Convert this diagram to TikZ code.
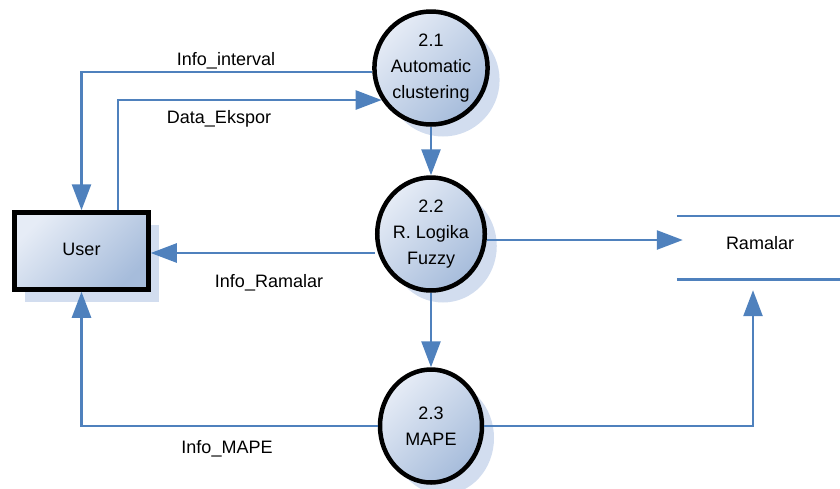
\documentclass[tikz,border=0pt]{standalone}
\usepackage{fontspec}
\setmainfont{Liberation Sans}
\usetikzlibrary{arrows.meta,shapes.geometric,shadows}

\definecolor{flowc}{HTML}{4F81BD}
\definecolor{filllight}{HTML}{E6ECF6}
\definecolor{filldark}{HTML}{A6BCDB}
\definecolor{shadowc}{HTML}{D2DDEF}

\tikzset{
  txt/.style={font=\fontsize{18}{26}\selectfont, inner sep=0pt},
  shaded/.style={top color=filllight, bottom color=filldark, shading angle=45},
  process/.style={ellipse, draw=black, line width=4.5pt, shaded,
    minimum width=102pt, minimum height=113pt, inner sep=0pt, align=center,
    txt, general shadow={fill=shadowc, shadow xshift=12pt, shadow yshift=-12pt}},
  entity/.style={rectangle, draw=black, line width=4.5pt, shaded,
    minimum width=134pt, minimum height=77pt, txt,
    general shadow={fill=shadowc, shadow xshift=10pt, shadow yshift=-12pt}},
  storebox/.style={rectangle, minimum width=163pt, minimum height=63pt, txt},
  flow/.style={draw=flowc, line width=2.6pt,
    -{Triangle[length=26pt,width=19pt]}},
  storeline/.style={draw=flowc, line width=2.6pt},
  lbl/.style={txt, anchor=base}
}

\begin{document}
\begin{tikzpicture}[x=1pt,y=-1pt]
\useasboundingbox (0,0) rectangle (840,488);

% processes, entity and data store
\node[process] (c21) at (431,68) {2.1\\Automatic\\clustering};
\node[process] (c22) at (431,234) {2.2\\R. Logika\\Fuzzy};
\node[process] (c23) at (431,426) {2.3\\MAPE};
\node[entity] (user) at (81.5,251) {};
\node[lbl] (userlbl) at (81.5,255) {User};
\node[storebox] (store) at (758.5,247.5) {};
\node[lbl] (storelbl) at (760,249) {Ramalar};
\draw[storeline] (store.north west) -- (store.north east);
\draw[storeline] (store.south west) -- (store.south east);

% connector end points
\coordinate (s21) at ([yshift=-4pt]c21.west);
\coordinate (u2) at ([xshift=36.5pt]user.north);
\coordinate (s22w) at ([yshift=-19pt]c22.west);
\coordinate (s22e) at ([yshift=-6pt]c22.east);
\coordinate (storeIn) at ([xshift=-5.5pt,yshift=-11pt]store.south);

% data flows
\draw[flow] (s21) -| (user.north);
\draw[flow] (u2) |- (c21.213);
\draw[flow] (c21.south) -- (c22.north);
\draw[flow] (s22w) -- (s22w -| user.east);
\draw[flow, shorten >=-6pt] (s22e) -- (s22e -| store.west);
\draw[flow] (c22.south) -- (c23.north);
\draw[flow] (c23.west) -| (user.south);
\draw[flow] (c23.east) -| (storeIn);

% flow labels
\node[lbl] (l1) at (226,65) {Info\_interval};
\node[lbl] (l2) at (219,123) {Data\_Ekspor};
\node[lbl] (l3) at (269,287) {Info\_Ramalar};
\node[lbl] (l4) at (227,453) {Info\_MAPE};
\end{tikzpicture}
\end{document}
